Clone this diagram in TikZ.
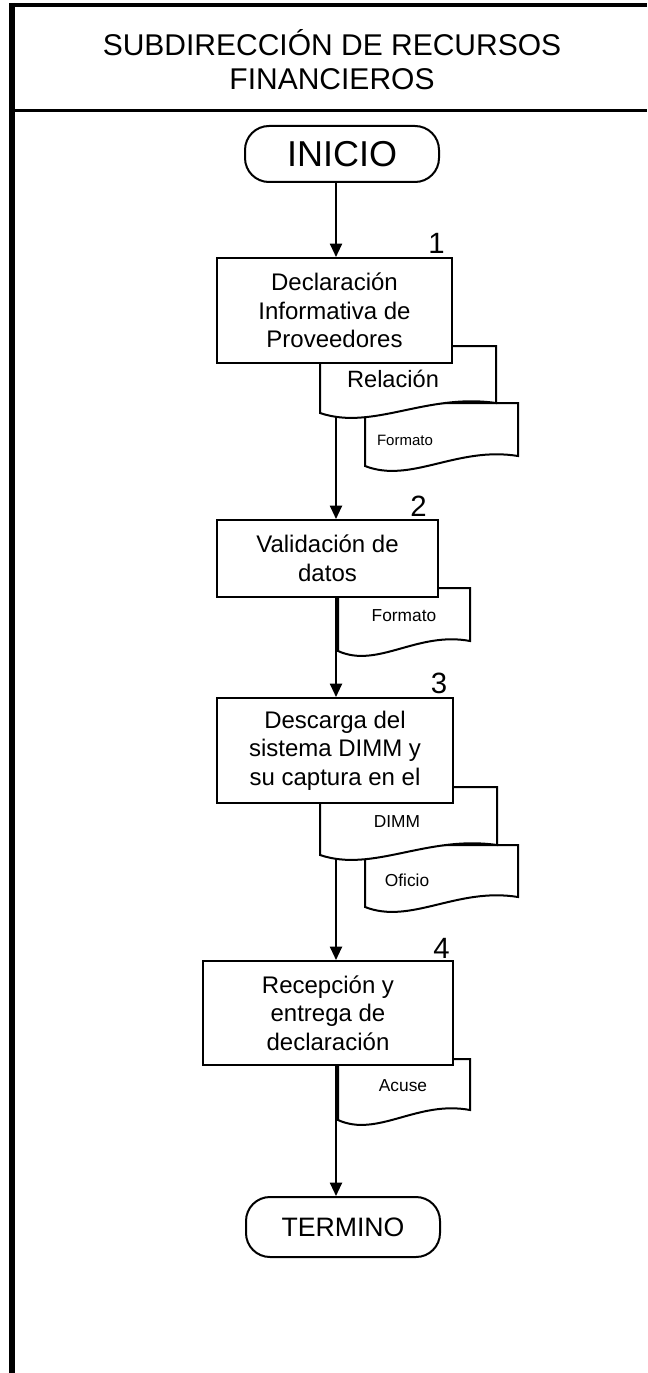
\documentclass[tikz,border=0pt]{standalone}
\usepackage{fontspec}
\setmainfont{Liberation Sans}
\usetikzlibrary{positioning,arrows.meta}
\pgfdeclarelayer{back}
\pgfsetlayers{back,main}
\tikzset{
  proc/.style={draw,line width=1.5pt,fill=white,align=center,inner sep=0pt,font=\fontsize{18}{21.4}\selectfont},
  term/.style={draw,line width=1.5pt,fill=white,rounded corners=18pt,inner sep=0pt,minimum width=145.5pt},
  docline/.style={draw,line width=1.5pt,fill=white},
  doctext/.style={inner sep=0pt,font=\fontsize{13}{15}\selectfont},
  num/.style={inner sep=0pt,font=\fontsize{22}{22}\selectfont},
  arr/.style={-{Triangle[length=10pt,width=9pt]},line width=1.5pt},
}
% document sheet: left, top, right, bottom (left side)
\newcommand{\docu}[4]{%
  \filldraw[docline] (#1,#2) -- (#3,#2) -- (#3,{#4-10})
    .. controls ({#1+0.6*(#3-#1)},{#4-20}) and ({#1+0.3*(#3-#1)},{#4+18}) .. (#1,#4) -- cycle;}

\begin{document}
\begin{tikzpicture}[x=0.75pt,y=-0.75pt]
\useasboundingbox (0,0) rectangle (647,1373);
% lane
\draw[line width=4.5pt] (12,3) -- (12,1373);
\draw[line width=3pt] (9,5) -- (647,5);
\draw[line width=2.25pt] (12,111) -- (647,111);
\node[font=\fontsize{22.5}{25.5}\selectfont,align=center] (title) at (332,60) {SUBDIRECCIÓN DE RECURSOS\\FINANCIEROS};

\node[term,minimum height=42pt,font=\fontsize{27}{28}\selectfont] (inicio) at (342,154) {INICIO};
\coordinate (spine) at (336,0);

% 1
\docu{365}{403}{518}{466}
\node[doctext,font=\fontsize{11.25}{13}\selectfont] (fmt1) at (405,440) {Formato};
\docu{320}{346}{496}{413}
\node[doctext,font=\fontsize{17.7}{20}\selectfont] (rel) at (393,379) {Relación};
\node[proc,minimum width=176.25pt,minimum height=78.75pt] (b1) at (334.5,310.5) {Declaración\\Informativa de\\Proveedores};
\node[num,above left=2.25pt and 6pt of b1.north east] (n1) {1};

% 2
\docu{338}{588}{470}{651}
\node[doctext] (fmt2) at (404,616) {Formato};
\node[proc,minimum width=165.75pt,minimum height=57.75pt] (b2) at (327.5,558.5) {Validación de\\datos};
\node[num,above left=1.5pt and 9pt of b2.north east] (n2) {2};

% 3
\docu{365}{845}{518}{907}
\node[doctext] (ofi) at (407,880) {Oficio};
\docu{320}{787}{497}{855}
\node[doctext] (dimm) at (397,822) {DIMM};
\node[proc,minimum width=177pt,minimum height=78.75pt] (b3) at (335,750.5) {Descarga del\\sistema DIMM y\\su captura en el};
\node[num,above left=2.25pt and 5pt of b3.north east] (n3) {3};

% 4
\docu{338}{1059}{470}{1120}
\node[doctext] (acu) at (403,1086) {Acuse};
\node[proc,minimum width=187.5pt,minimum height=78pt] (b4) at (328,1013) {Recepción y\\entrega de\\declaración};
\node[num,above left=0.75pt and 3pt of b4.north east] (n4) {4};

\node[term,minimum height=45pt,font=\fontsize{20}{22}\selectfont] (termino) at (343,1227) {TERMINO};

\begin{pgfonlayer}{back}
\draw[arr] (spine |- inicio.south) -- (spine |- b1.north);
\draw[arr] (spine |- b1.south) -- (spine |- b2.north);
\draw[arr] (spine |- b2.south) -- (spine |- b3.north);
\draw[arr] (spine |- b3.south) -- (spine |- b4.north);
\draw[arr] (spine |- b4.south) -- (spine |- termino.north);
\end{pgfonlayer}
\end{tikzpicture}
\end{document}
